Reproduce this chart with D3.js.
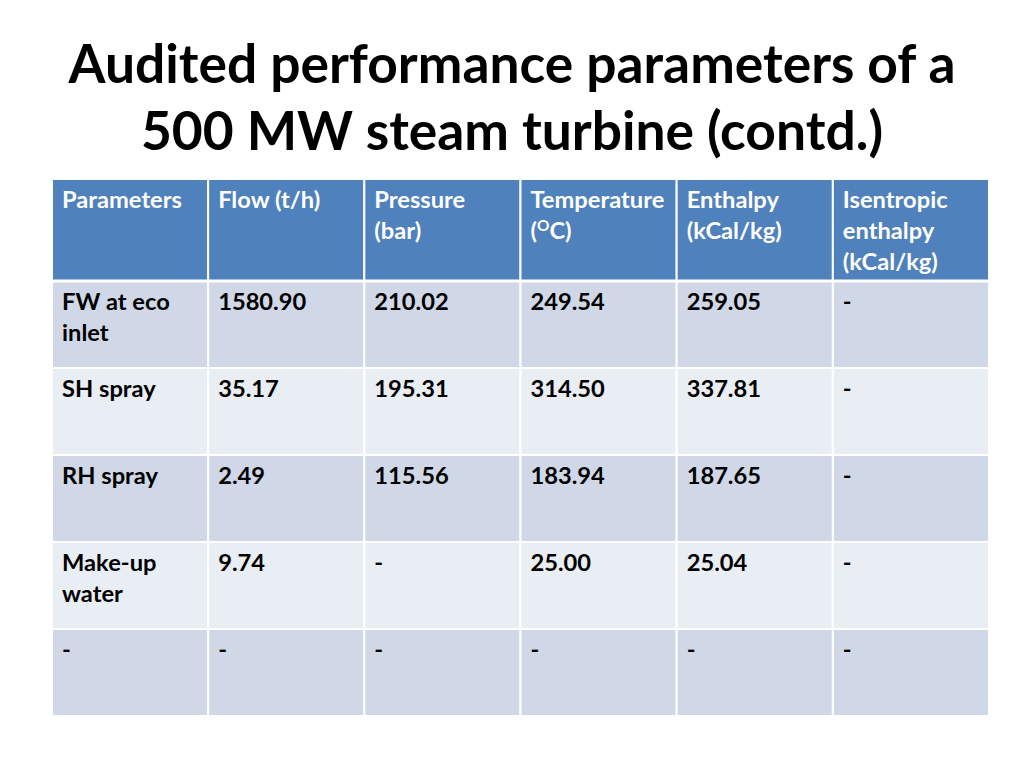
<!DOCTYPE html>
<html><head><meta charset="utf-8">
<script src="https://cdn.jsdelivr.net/npm/d3@7"></script>
<style>html,body{margin:0;padding:0;background:#fff;}svg{display:block;}</style>
</head><body>
<svg id="c" width="1024" height="768"></svg>
<script>
const titleLines = ["Audited performance parameters of a", "500 MW steam turbine (contd.)"];
const headers = [["Parameters"], ["Flow (t/h)"], ["Pressure", "(bar)"], ["Temperature", "(OC)"], ["Enthalpy", "(kCal/kg)"], ["Isentropic", "enthalpy", "(kCal/kg)"]];
const rowLabels = [["FW at eco", "inlet"], ["SH spray"], ["RH spray"], ["Make-up", "water"], ["-"]];
const flow = ["1580.90", "35.17", "2.49", "9.74", "-"];
const pressure = ["210.02", "195.31", "115.56", "-", "-"];
const temperature = ["249.54", "314.50", "183.94", "25.00", "-"];
const enthalpy = ["259.05", "337.81", "187.65", "25.04", "-"];
const isentropic = ["-", "-", "-", "-", "-"];

const svg = d3.select("#c");
const font = "Lato, 'Open Sans', sans-serif";

function fit(sel, target) {
  const w = sel.node().getComputedTextLength();
  const fs = parseFloat(sel.attr("font-size"));
  sel.attr("font-size", fs * target / w);
}

// Title
const t1 = svg.append("text").attr("x", 512).attr("y", 83).attr("text-anchor", "middle")
  .attr("font-family", font).attr("font-weight", 700).attr("font-size", 48).attr("fill", "#000").text(titleLines[0]);
fit(t1, 887);
const t2 = svg.append("text").attr("x", 512).attr("y", 150).attr("text-anchor", "middle")
  .attr("font-family", font).attr("font-weight", 700).attr("font-size", +t1.attr("font-size")).attr("fill", "#000").text(titleLines[1]);

// Table
const colIdx = d3.range(headers.length);
const x = d3.scaleBand().domain(colIdx).range([52, 989]).paddingInner(0);
const headTop = 179, headBottom = 281;
const y = d3.scaleBand().domain(d3.range(rowLabels.length)).range([headBottom, 716]);

const rows = rowLabels.map((lab, i) => [lab, [flow[i]], [pressure[i]], [temperature[i]], [enthalpy[i]], [isentropic[i]]]);

// header cells
const hg = svg.append("g");
hg.selectAll("rect").data(colIdx).join("rect")
  .attr("x", d => x(d)).attr("y", headTop).attr("width", x.bandwidth()).attr("height", headBottom - headTop)
  .attr("fill", "#4F81BD").attr("stroke", "#fff").attr("stroke-width", 2);

const rg = svg.append("g");
rows.forEach((r, i) => {
  rg.selectAll(null).data(colIdx).join("rect")
    .attr("x", d => x(d)).attr("y", y(i)).attr("width", x.bandwidth()).attr("height", y.bandwidth())
    .attr("fill", i % 2 === 0 ? "#D0D8E8" : "#E9EDF4").attr("stroke", "#fff").attr("stroke-width", 2);
});
svg.append("line").attr("x1", 52).attr("x2", 989).attr("y1", headBottom).attr("y2", headBottom)
  .attr("stroke", "#fff").attr("stroke-width", 3);

// measure body font size so "Parameters" spans the same width as in the reference
const probe = svg.append("text").attr("font-family", font).attr("font-weight", 700).attr("font-size", 20).text(headers[0][0]);
fit(probe, 120);
const fs = +probe.attr("font-size");
probe.remove();
const lh = 31;

headers.forEach((lines, c) => {
  lines.forEach((ln, k) => {
    const tx = svg.append("text").attr("x", x(c) + 10).attr("y", headTop + 29 + k * lh)
      .attr("font-family", font).attr("font-weight", 700).attr("font-size", fs).attr("fill", "#fff");
    if (ln === "(OC)") {
      tx.append("tspan").text("(");
      tx.append("tspan").attr("font-size", fs * 0.65).attr("dy", -8).text("O");
      tx.append("tspan").attr("dy", 8).text("C)");
    } else tx.text(ln);
  });
});
rows.forEach((r, i) => {
  r.forEach((lines, c) => {
    lines.forEach((ln, k) => {
      svg.append("text").attr("x", x(c) + 10).attr("y", y(i) + 29 + k * lh)
        .attr("font-family", font).attr("font-weight", 700).attr("font-size", fs).attr("fill", "#000").text(ln);
    });
  });
});
</script>
</body></html>
